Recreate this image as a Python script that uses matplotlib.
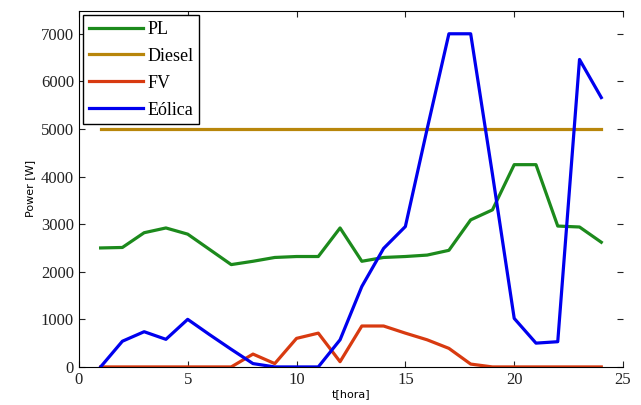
import matplotlib
matplotlib.use("Agg")
import matplotlib.pyplot as plt

hours = list(range(1, 25))
pl = [2500, 2510, 2820, 2920, 2790, 2470, 2150, 2220, 2300, 2320, 2320, 2920,
      2220, 2300, 2320, 2350, 2450, 3090, 3300, 4250, 4250, 2960, 2940, 2620]
diesel = [5000] * 24
fv = [0, 0, 0, 0, 0, 0, 0, 270, 70, 600, 710, 110,
      860, 860, 710, 570, 390, 60, 0, 0, 0, 0, 0, 0]
eolica = [0, 540, 740, 580, 1000, 680, 370, 70, 0, 0, 0, 570,
          1690, 2490, 2950, 5000, 7000, 7000, 4050, 1020, 500, 530, 6460, 5660]

fig = plt.figure(figsize=(6.41, 4.05), dpi=100)
ax = fig.add_axes([0.123, 0.094, 0.849, 0.879])

ax.plot(hours, pl, color="#1c8a1c", lw=2.3, label="PL")
ax.plot(hours, diesel, color="#b8860b", lw=2.3, label="Diesel")
ax.plot(hours, fv, color="#d83a10", lw=2.3, label="FV")
ax.plot(hours, eolica, color="#0000ee", lw=2.3, label="Eólica")

ax.set_xlim(0, 25)
ax.set_ylim(0, 7480)
ax.set_xticks([0, 5, 10, 15, 20, 25])
ax.set_yticks(range(0, 8000, 1000))
ax.tick_params(direction="in", top=True, right=True, length=4,
               labelsize=12, colors="#222222")
for lab in ax.get_xticklabels() + ax.get_yticklabels():
    lab.set_family("Liberation Serif")
ax.spines["right"].set_visible(False)

ax.set_xlabel("t[hora]", fontsize=8, labelpad=1)
ax.set_ylabel("Power [W]", fontsize=8)

leg = ax.legend(loc="upper left", prop={"family": "Liberation Serif", "size": 13},
                fancybox=False, edgecolor="black", framealpha=1,
                handlelength=3.0, handletextpad=0.25, labelspacing=0.55,
                borderaxespad=0.25, borderpad=0.3)
leg.get_frame().set_linewidth(1.0)

fig.savefig("out.png", dpi=100)
